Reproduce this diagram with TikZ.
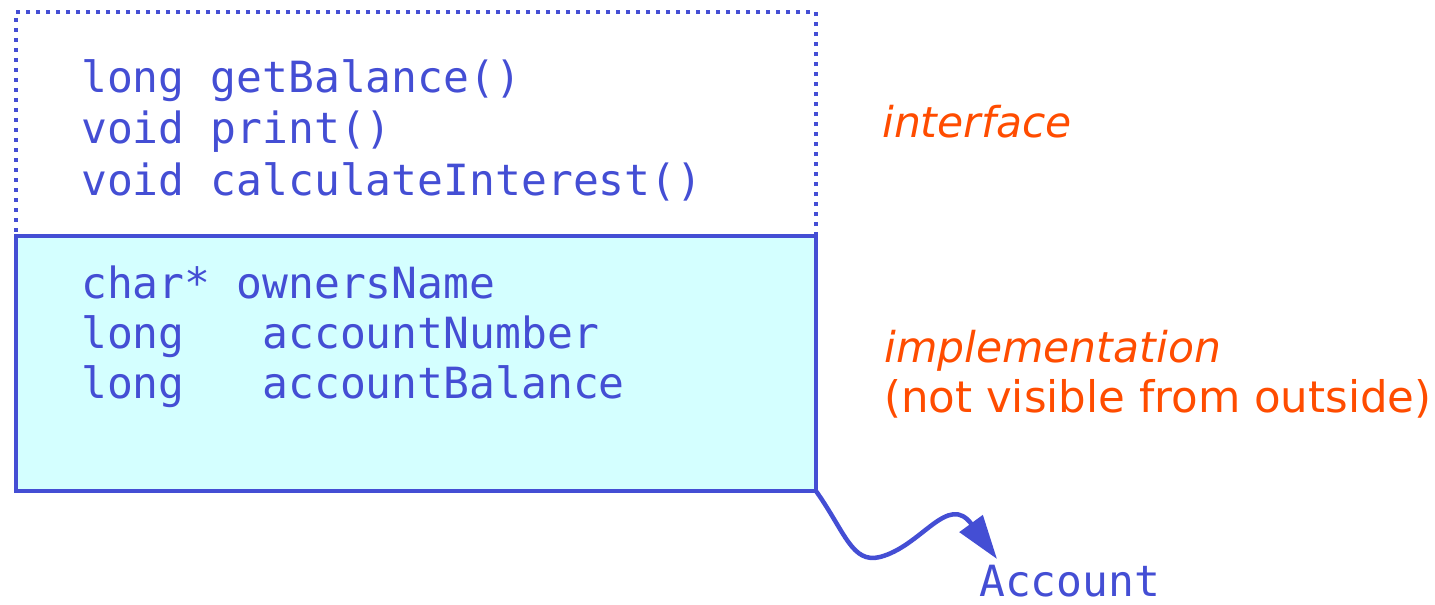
\documentclass[tikz,border=0pt]{standalone}
\usepackage{fontspec}
\setmainfont{DejaVu Sans}
\newfontfamily\codefont{DejaVu Sans Mono}
\usetikzlibrary{arrows.meta}
\definecolor{ublue}{RGB}{68,78,212}
\definecolor{uorange}{RGB}{255,76,0}
\definecolor{ucyan}{RGB}{212,255,255}
\tikzset{
  codetext/.style={anchor=base west, inner sep=0pt, text=ublue, font=\codefont\fontsize{43}{50}\selectfont},
  notetext/.style={anchor=base west, inner sep=0pt, text=uorange, font=\fontsize{43.5}{50}\selectfont},
  ifacebox/.style={draw=ublue, line width=4.5pt, dash pattern=on 4pt off 6pt, anchor=north west, inner sep=0pt, outer sep=0pt},
  implbox/.style={draw=ublue, fill=ucyan, line width=4.5pt, anchor=north west, inner sep=0pt, outer sep=0pt},
  conn/.style={draw=ublue, line width=4.5pt, -{Triangle[length=44pt, width=28pt]}}
}
\begin{document}
\begin{tikzpicture}[x=1pt, y=-1pt]
\useasboundingbox (0,0) rectangle (1435,605);
\node[ifacebox, minimum width=800pt, minimum height=224pt] (iface) at (16,12) {};
\node[implbox, minimum width=800pt, minimum height=255pt] (impl) at (16,236) {};
\node[codetext] (m1) at (81,92) {long getBalance()};
\node[codetext] (m2) at (81,143.5) {void print()};
\node[codetext] (m3) at (81,195) {void calculateInterest()};
\node[codetext] (f1) at (81,298) {char* ownersName};
\node[codetext] (f2) at (81,348) {long\ \ \ accountNumber};
\node[codetext] (f3) at (81,398) {long\ \ \ accountBalance};
\node[notetext, font=\fontsize{42.5}{50}\selectfont\itshape] (lif) at (882,137) {interface};
\node[notetext, font=\fontsize{42.5}{50}\selectfont\itshape] (lim) at (884,362) {implementation};
\node[notetext] (lnv) at (884,412) {(not visible from outside)};
\node[codetext] (acc) at (979,596) {Account};
\coordinate (tip) at (997,559);
\draw[conn] (impl.south east) .. controls (845,532) and (852,564) .. (880,557)
  .. controls (922,546) and (948,492) .. (tip);
\end{tikzpicture}
\end{document}
